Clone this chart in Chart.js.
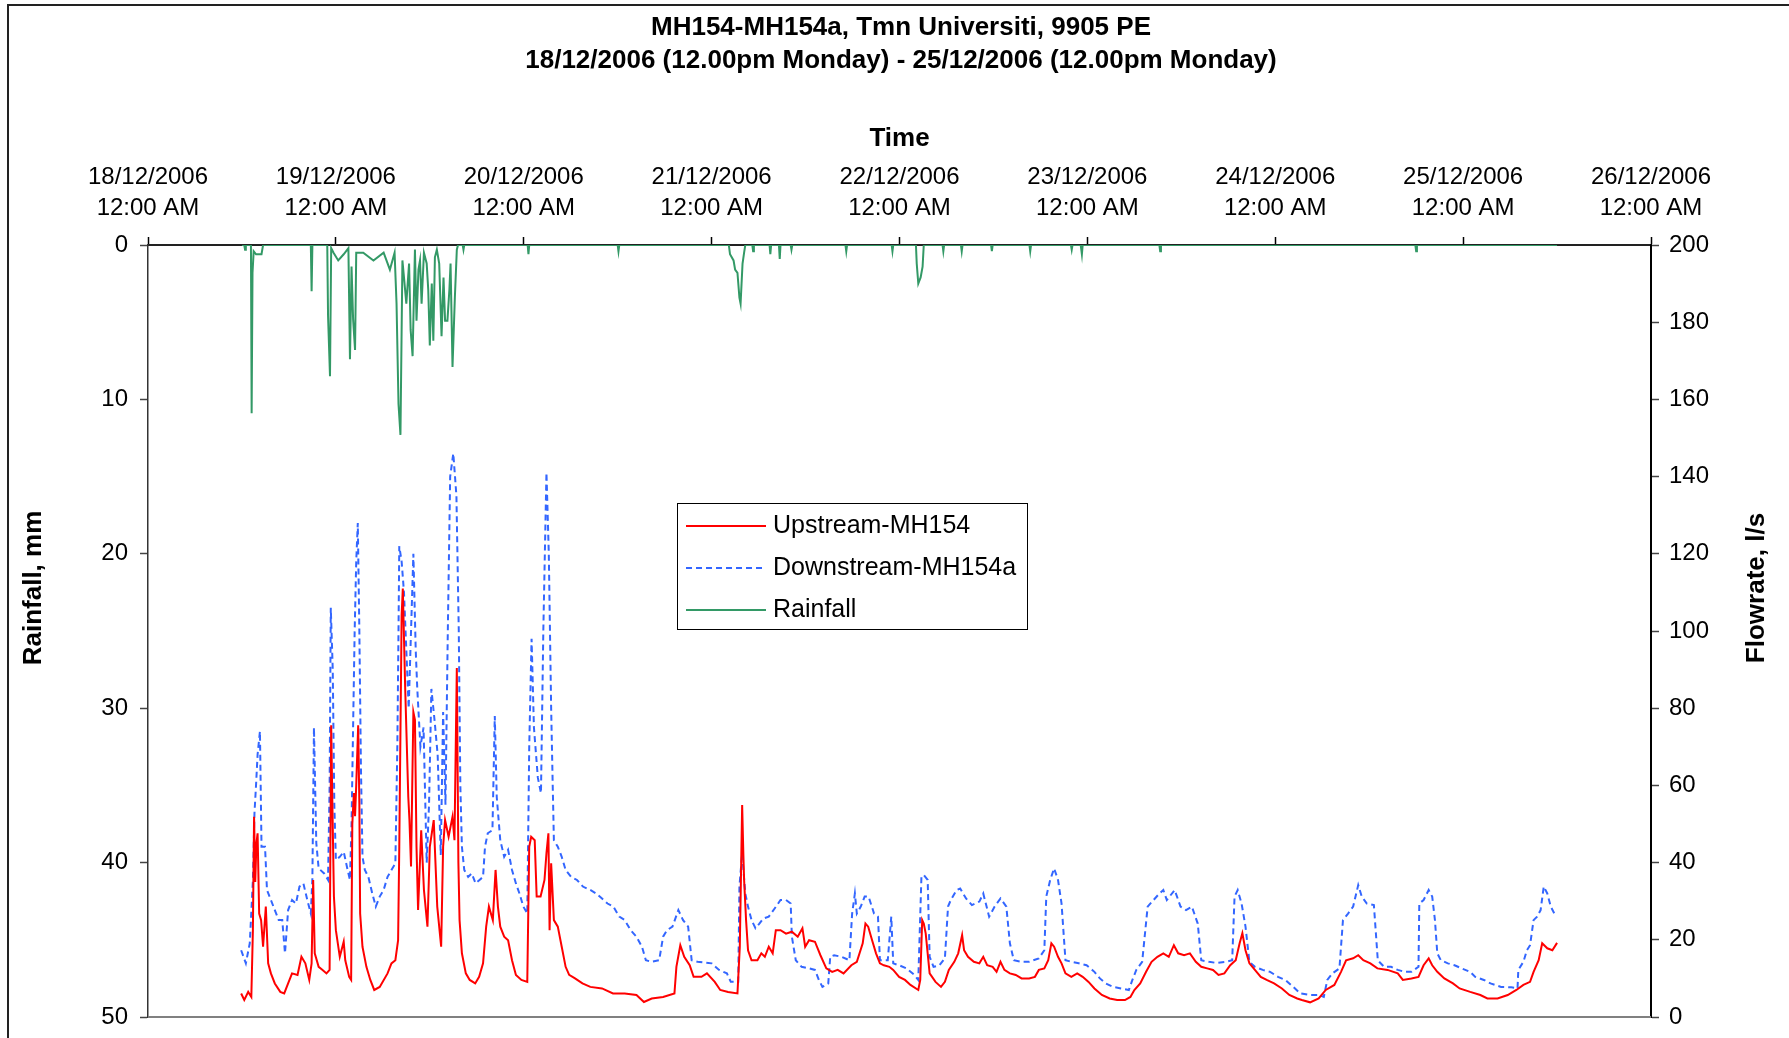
<!DOCTYPE html>
<html>
<head>
<meta charset="utf-8">
<script src="https://cdn.jsdelivr.net/npm/chart.js@4/dist/chart.umd.min.js"></script>
<style>
  html, body { margin: 0; padding: 0; background: #fff; overflow: hidden; }
  #wrap { width: 1789px; height: 1038px; overflow: hidden; }
  canvas { display: block; }
</style>
</head>
<body>
<div id="wrap"><canvas id="flowChart" width="1789" height="1038"></canvas></div>
<script>
// ---- data: [hours since 18/12/2006 00:00, value]
var titleLines = ['MH154-MH154a, Tmn Universiti, 9905 PE',
                  '18/12/2006 (12.00pm Monday) - 25/12/2006 (12.00pm Monday)'];
var xTickLabels = [['18/12/2006', '12:00 AM'], ['19/12/2006', '12:00 AM'], ['20/12/2006', '12:00 AM'],
                   ['21/12/2006', '12:00 AM'], ['22/12/2006', '12:00 AM'], ['23/12/2006', '12:00 AM'],
                   ['24/12/2006', '12:00 AM'], ['25/12/2006', '12:00 AM'], ['26/12/2006', '12:00 AM']];
var seriesNames = ['Upstream-MH154', 'Downstream-MH154a', 'Rainfall'];

// flowrate l/s
var upstream = [[11.9,6.1],[12.3,4.4],[12.8,6.5],[13.2,5.2],[13.4,22.5],[13.55,51.9],[13.7,35],[13.85,45],[14.0,47.6],[14.2,26.8],[14.45,25.1],[14.7,18.2],[15.05,28.6],[15.35,13.9],[15.7,11.3],[16.2,8.7],[16.9,6.5],[17.4,6.1],[17.9,8.7],[18.4,11.3],[19.1,10.9],[19.6,15.6],[20.1,13.9],[20.6,9.6],[20.9,13.9],[21.1,35.5],[21.3,16.5],[21.8,13.0],[22.3,12.2],[22.8,11.3],[23.2,12.2],[23.4,75.6],[23.55,55.4],[23.75,31.2],[24.0,22.5],[24.5,15.6],[25.0,19.5],[25.2,14.7],[25.7,10.4],[25.95,9.6],[26.1,50],[26.3,58],[26.45,52],[26.6,60],[26.85,75.6],[27.0,55],[27.1,26.8],[27.4,18.2],[27.9,13.0],[28.4,9.6],[28.9,7.0],[29.6,7.8],[30.6,11.3],[31.1,13.9],[31.6,14.7],[31.95,19.9],[32.1,44.1],[32.4,104],[32.55,111],[32.85,85.5],[33.25,57],[33.4,51],[33.6,39],[33.9,79],[34.1,77],[34.3,44.1],[34.5,27.7],[34.9,48.4],[35.25,32.9],[35.7,23.4],[36.0,44.1],[36.5,51.0],[36.95,28.6],[37.45,18.2],[37.7,44.1],[37.95,51.0],[38.4,46.7],[38.9,51.9],[39.15,45.8],[39.45,90.4],[39.65,40],[39.8,25.1],[40.1,16.5],[40.6,11.3],[41.1,9.6],[41.8,8.7],[42.3,10.4],[42.8,13.9],[43.2,23.4],[43.55,28.6],[44.05,25.1],[44.4,38.1],[44.7,28.6],[45.0,23.4],[45.5,20.8],[46.0,19.9],[46.5,14.7],[47.0,10.9],[47.7,9.6],[48.45,9.1],[48.7,44.1],[48.95,46.7],[49.4,45.8],[49.65,31.2],[50.15,31.2],[50.65,35.5],[50.9,42.4],[51.15,47.6],[51.3,22.5],[51.5,39.8],[51.85,25.1],[52.35,23.4],[52.85,18.2],[53.35,13.0],[53.8,10.9],[54.55,10.0],[55.5,8.7],[56.5,7.8],[58.0,7.4],[59.4,6.1],[60.9,6.1],[62.4,5.7],[63.35,3.9],[64.35,4.8],[65.8,5.2],[67.25,6.1],[67.5,13.0],[68.0,18.6],[68.5,15.6],[69.2,13.4],[69.7,10.4],[70.7,10.4],[71.4,11.3],[72.4,9.1],[73.1,7.0],[74.1,6.5],[75.3,6.1],[75.6,18.2],[75.9,54.9],[76.05,42.4],[76.15,35.5],[76.4,25.1],[76.65,17.3],[77.1,14.7],[77.85,14.7],[78.35,16.5],[78.8,15.6],[79.3,18.2],[79.8,16.5],[80.2,22.5],[80.8,22.5],[81.5,21.6],[82.25,22.1],[83.0,20.8],[83.6,23.0],[83.95,18.2],[84.45,19.9],[85.2,19.5],[85.9,16.0],[86.65,12.6],[87.4,11.7],[88.1,12.2],[88.85,11.3],[89.85,13.4],[90.55,14.3],[91.3,19.1],[91.65,24.2],[92.0,23.4],[92.5,19.9],[93.0,16.5],[93.5,13.9],[94.0,13.4],[94.7,13.0],[95.2,12.2],[95.95,10.4],[96.7,9.6],[97.4,8.3],[98.4,7.0],[98.65,9.6],[98.9,25.1],[99.1,24.2],[99.35,21.6],[99.85,11.3],[100.6,9.1],[101.3,7.8],[101.8,9.1],[102.3,12.2],[103.0,14.3],[103.5,16.5],[104.0,21.2],[104.25,17.3],[104.75,15.6],[105.5,14.3],[106.2,13.9],[106.7,15.6],[107.2,13.4],[107.9,13.0],[108.4,11.7],[108.9,14.3],[109.4,12.2],[110.1,11.3],[110.85,10.9],[111.6,10.0],[112.55,10.0],[113.3,10.4],[113.8,12.2],[114.5,12.6],[115.0,14.7],[115.4,19.1],[115.75,18.2],[116.25,15.6],[116.7,13.9],[117.2,11.3],[117.95,10.4],[118.7,11.3],[119.4,10.4],[120.15,9.1],[120.9,7.4],[121.85,5.7],[122.85,4.8],[123.8,4.4],[124.8,4.4],[125.5,5.2],[126.0,7.0],[126.75,8.7],[127.5,11.7],[128.2,14.3],[128.95,15.6],[129.7,16.5],[130.4,15.6],[131.05,18.6],[131.6,16.5],[132.35,16.0],[133.1,16.5],[133.85,14.3],[134.55,13.0],[135.3,12.6],[136.05,12.2],[136.75,10.9],[137.5,11.3],[138.25,13.4],[138.95,14.7],[139.45,19.1],[139.8,21.7],[140.2,17.3],[140.7,13.9],[141.4,12.2],[142.15,10.4],[142.9,9.6],[143.85,8.7],[144.85,7.4],[145.8,5.7],[146.8,4.8],[147.4,4.4],[148.45,3.8],[149.55,4.8],[150.45,7.0],[151.55,8.3],[152.4,11.7],[153.05,14.7],[153.95,15.2],[154.6,16.0],[155.25,14.7],[156.15,13.9],[157.05,12.6],[158.35,12.2],[159.65,11.3],[160.3,9.6],[161.4,10.0],[162.3,10.4],[162.95,13.4],[163.6,15.2],[164.05,13.4],[164.7,11.7],[165.6,10.0],[166.7,8.7],[167.55,7.4],[168.9,6.5],[170.2,5.7],[171.1,4.8],[172.4,4.8],[173.7,5.7],[174.8,7.0],[175.7,8.3],[176.55,9.1],[177.0,11.7],[177.65,14.7],[178.1,19.1],[178.75,17.8],[179.4,17.3],[180.0,19.2]];

var downstream = [[11.9,17.3],[12.5,13.9],[13.0,19.1],[13.4,35.5],[13.6,52.8],[13.8,60],[14.0,68],[14.3,74],[14.5,44.1],[14.95,44.1],[15.2,32.9],[15.7,30.3],[16.2,27.7],[16.7,25.1],[17.15,25.1],[17.5,16.5],[17.9,27.7],[18.4,30.3],[18.9,29.4],[19.35,33.8],[19.85,34.6],[20.35,30.3],[20.8,26.8],[21.0,36],[21.2,75],[21.5,45],[21.8,38.5],[22.5,37.2],[23.0,35.5],[23.2,60],[23.35,106],[23.6,90],[23.8,55],[24.0,40.7],[24.5,41.5],[25.0,42.8],[25.5,38.1],[25.8,35.5],[26.0,50],[26.2,75],[26.4,100],[26.6,118],[26.8,128],[27.0,100],[27.2,65],[27.4,41.5],[27.7,38.1],[28.15,36.3],[28.65,32.0],[29.1,28.6],[29.6,31.2],[30.1,32.9],[30.6,36.3],[31.1,38.1],[31.6,39.8],[31.85,70],[32.0,100],[32.1,122],[32.4,118],[32.7,110],[33.0,95],[33.3,80],[33.6,100],[33.9,120],[34.2,95],[34.4,85],[34.8,70],[35.2,75],[35.6,40],[35.9,55],[36.2,85],[36.6,77],[37.0,68],[37.4,42],[37.7,79],[38.0,55],[38.3,100],[38.6,140],[39.0,146],[39.4,135],[39.7,100],[39.9,60],[40.1,44.1],[40.4,38.1],[40.9,36.3],[41.35,37.2],[41.85,34.6],[42.35,35.5],[42.8,36.3],[43.05,44.1],[43.4,47.6],[44.0,48.4],[44.3,78],[44.55,57],[45.0,45.8],[45.5,41.5],[46.0,43.3],[46.5,38.1],[47.0,34.6],[47.45,32.0],[47.95,28.6],[48.45,26.8],[48.7,70],[49.0,98],[49.3,75],[49.8,62],[50.2,58],[50.5,100],[50.9,141],[51.2,120],[51.5,80],[51.7,60],[51.85,45.8],[52.35,44.1],[52.85,41.5],[53.35,38.1],[54.05,36.3],[54.8,35.5],[55.55,33.8],[56.5,32.9],[57.25,32.0],[58.0,30.7],[58.7,29.4],[59.45,28.6],[60.2,26.0],[60.9,25.1],[61.65,22.5],[62.4,20.8],[63.1,18.2],[63.6,14.7],[64.35,14.3],[65.3,14.7],[65.8,20.8],[66.3,22.5],[67.0,23.4],[67.75,27.7],[68.35,25.1],[69.0,23.4],[69.45,14.7],[70.2,14.3],[72.0,13.9],[72.95,12.2],[73.95,11.3],[74.45,9.1],[75.4,9.1],[75.55,33.8],[75.9,42.4],[76.3,32.0],[76.65,28.6],[77.1,25.1],[77.6,23.0],[78.1,24.2],[78.6,25.5],[79.3,26.0],[80.05,28.1],[80.8,30.3],[81.5,30.3],[82.1,29.4],[82.25,20.8],[82.75,14.7],[83.5,13.0],[84.45,12.6],[85.2,12.2],[85.7,9.6],[86.15,7.8],[86.9,8.7],[87.15,15.6],[87.65,16.0],[88.6,15.6],[89.6,14.7],[89.95,26.8],[90.3,32.0],[90.55,26.8],[91.05,28.6],[91.55,31.2],[92.05,31.2],[92.75,26.8],[93.25,26.0],[93.5,14.7],[94.5,14.7],[94.95,26.0],[95.2,13.9],[95.95,13.4],[96.9,12.6],[97.9,10.9],[98.4,9.6],[98.8,36.3],[99.1,36.8],[99.6,35.5],[99.85,15.6],[100.35,13.0],[101.1,13.4],[101.8,15.2],[102.2,28.6],[102.55,30.3],[103.3,32.9],[103.75,33.3],[104.5,30.7],[105.25,29.0],[106.2,29.9],[106.7,32.0],[107.45,26.0],[108.15,28.6],[108.9,30.7],[109.65,28.6],[110.1,19.1],[110.6,14.7],[111.6,14.3],[112.55,14.3],[113.8,15.2],[114.5,17.3],[114.75,31.2],[115.25,35.5],[115.75,38.5],[116.25,35.5],[116.7,29.4],[117.2,14.7],[117.95,14.3],[118.9,13.9],[119.9,13.4],[120.9,11.7],[121.6,10.0],[122.35,8.7],[123.3,7.8],[124.3,7.4],[125.3,7.0],[125.75,9.6],[126.25,12.2],[127.0,14.3],[127.7,28.6],[128.45,30.3],[129.2,32.0],[129.7,32.9],[130.15,30.3],[131.15,32.9],[131.9,28.6],[132.6,27.7],[133.35,28.6],[134.1,24.2],[134.55,14.7],[135.55,14.3],[136.5,14.0],[137.75,14.3],[138.5,14.7],[138.8,31.2],[139.2,32.9],[139.7,29.4],[140.2,23.4],[140.7,14.3],[141.4,13.0],[142.4,12.2],[143.35,11.7],[144.35,10.4],[145.3,9.6],[146.3,7.8],[147.2,6.1],[148.45,5.7],[149.55,5.7],[150.2,5.2],[150.65,9.6],[151.3,11.3],[152.2,12.6],[152.65,25.1],[153.3,26.8],[153.95,28.6],[154.6,34.2],[155.05,31.2],[155.7,29.4],[156.6,29.0],[157.1,14.7],[157.9,13.0],[158.8,13.0],[159.65,12.2],[160.55,11.7],[161.4,11.7],[162.3,13.0],[162.4,29.4],[162.95,30.3],[163.6,32.9],[164.05,31.2],[164.4,25.1],[164.7,16.5],[165.15,14.7],[166.05,13.9],[166.9,13.4],[167.8,12.6],[168.9,11.7],[169.55,10.4],[170.65,9.6],[171.5,8.7],[172.85,7.8],[174.15,7.7],[174.95,7.4],[175.05,12.2],[175.7,14.3],[176.15,17.3],[176.55,18.6],[177.0,25.1],[177.45,26.0],[177.9,27.7],[178.3,33.8],[178.75,32.0],[179.2,28.6],[179.65,26.8]];

// rainfall mm
var rainfall = [[12.0,0],[12.3,0],[12.4,0.3],[12.5,0],[13.15,0],[13.24,10.9],[13.35,1.8],[13.5,0.4],[13.8,0.6],[14.1,0.6],[14.5,0.6],[14.7,0],[20.8,0],[20.9,3.0],[21.0,0],[22.9,0],[23.0,4.6],[23.25,8.5],[23.4,0.2],[23.7,0.5],[24.3,1.0],[25.0,0.6],[25.6,0.2],[25.8,7.4],[26.0,1.4],[26.2,4.8],[26.45,6.8],[26.6,0.5],[27.5,0.5],[28.8,1.0],[30.1,0.5],[30.9,1.6],[31.5,0.5],[31.75,3.8],[32.0,10.3],[32.25,12.3],[32.5,1.0],[32.7,2.1],[33.0,3.8],[33.35,1.2],[33.55,5.5],[33.8,7.2],[34.1,0.3],[34.3,4.9],[34.55,1.6],[34.75,1.0],[34.95,3.8],[35.25,0.5],[35.6,1.2],[35.8,2.9],[36.0,6.5],[36.25,2.5],[36.45,6.2],[36.65,0.8],[36.9,0.3],[37.2,1.2],[37.5,5.9],[37.75,2.1],[37.95,4.9],[38.25,4.9],[38.5,2.9],[38.65,1.2],[38.9,7.9],[39.2,3.4],[39.45,0.3],[39.6,0],[40.2,0],[40.3,0.3],[40.4,0],[48.5,0],[48.6,0.6],[48.7,0],[60.0,0],[60.1,0.4],[60.2,0],[74.2,0],[74.35,0.6],[74.8,1.0],[75.0,1.6],[75.3,1.8],[75.55,3.4],[75.7,3.8],[75.95,1.2],[76.15,0.5],[76.3,0],[77.2,0],[77.3,0.4],[77.4,0],[79.4,0],[79.5,0.6],[79.6,0],[80.6,0],[80.7,0.9],[80.8,0],[82.1,0],[82.2,0.3],[82.3,0],[89.1,0],[89.2,0.4],[89.3,0],[95.0,0],[95.1,0.4],[95.2,0],[98.1,0],[98.2,1.2],[98.4,2.5],[98.7,2.1],[98.95,1.4],[99.1,0],[101.5,0],[101.6,0.4],[101.7,0],[103.85,0],[103.95,0.4],[104.05,0],[107.7,0],[107.8,0.4],[107.9,0],[112.6,0],[112.7,0.4],[112.8,0],[117.9,0],[118.0,0.3],[118.1,0],[119.15,0],[119.3,0.6],[119.4,0],[129.2,0],[129.3,0.4],[129.4,0],[161.9,0],[162.0,0.4],[162.1,0],[180.0,0]];

function toPoints(pairs){
    return pairs.map(function(p){ return {x: p[0], y: p[1]}; });
}

var FONT = '"Liberation Sans", Arial, sans-serif';
Chart.defaults.font.family = FONT;
Chart.defaults.color = '#000';

// fixed axis band sizes so the plot area sits where the original does
function fitBand(size){
    return function(s){
        if (s.isHorizontal()) { s.height = size; } else { s.width = size; }
        s.paddingTop = 0;
        s.paddingBottom = 0;
    };
}

// ---- extra drawing: frame, bottom rule, rotated axis titles, boxed legend
var decor = {
    id: 'decor',
    beforeDraw: function(chart){
        var ctx = chart.ctx;
        ctx.save();
        ctx.fillStyle = '#fff';
        ctx.fillRect(0, 0, chart.width, chart.height);
        ctx.strokeStyle = '#222';
        ctx.lineWidth = 2;
        ctx.strokeRect(8, 5, chart.width + 20, chart.height + 20);
        ctx.restore();
    },
    beforeDatasetsDraw: function(chart){
        var ctx = chart.ctx, a = chart.chartArea;
        ctx.save();
        ctx.strokeStyle = '#808080';
        ctx.lineWidth = 2;
        ctx.beginPath();
        ctx.moveTo(a.left, a.bottom);
        ctx.lineTo(a.right, a.bottom);
        ctx.stroke();
        ctx.restore();
    },
    afterDraw: function(chart){
        var ctx = chart.ctx;
        // axis titles, both read bottom-to-top
        ctx.save();
        ctx.font = 'bold 26px ' + FONT;
        ctx.fillStyle = '#000';
        ctx.textAlign = 'center';
        ctx.textBaseline = 'middle';
        [[34, 'Rainfall, mm'], [1757, 'Flowrate, l/s']].forEach(function(t){
            ctx.save();
            ctx.translate(t[0], 588);
            ctx.rotate(-Math.PI / 2);
            ctx.fillText(t[1], 0, 0);
            ctx.restore();
        });
        ctx.restore();
        // legend
        var bx = 677, by = 503, bw = 350, bh = 126;
        ctx.save();
        ctx.fillStyle = '#fff';
        ctx.fillRect(bx, by, bw, bh);
        ctx.strokeStyle = '#000';
        ctx.lineWidth = 1;
        ctx.strokeRect(bx + 0.5, by + 0.5, bw, bh);
        ctx.font = '25px ' + FONT;
        ctx.textBaseline = 'middle';
        chart.data.datasets.forEach(function(ds, i){
            var y = by + 23 + i * 42;
            ctx.strokeStyle = ds.borderColor;
            ctx.lineWidth = ds.borderWidth;
            ctx.setLineDash(ds.borderDash || []);
            ctx.beginPath();
            ctx.moveTo(bx + 9, y);
            ctx.lineTo(bx + 89, y);
            ctx.stroke();
            ctx.setLineDash([]);
            ctx.fillStyle = '#000';
            ctx.fillText(ds.label, bx + 96, y);
        });
        ctx.restore();
    }
};

var chart = new Chart(document.getElementById('flowChart'), {
    type: 'line',
    data: {
        datasets: [
            {label: seriesNames[0], data: toPoints(upstream), yAxisID: 'yFlow',
             borderColor: '#FF0000', borderWidth: 2, pointRadius: 0, tension: 0},
            {label: seriesNames[1], data: toPoints(downstream), yAxisID: 'yFlow',
             borderColor: '#3366FF', borderWidth: 2, borderDash: [6, 4], pointRadius: 0, tension: 0},
            {label: seriesNames[2], data: toPoints(rainfall), yAxisID: 'yRain',
             borderColor: '#339966', borderWidth: 2, pointRadius: 0, tension: 0}
        ]
    },
    options: {
        responsive: false,
        animation: false,
        devicePixelRatio: 1,
        layout: {padding: {left: 13, right: 0, top: 0, bottom: 21}},
        plugins: {
            legend: {display: false},
            tooltip: {enabled: false},
            title: {display: true, text: titleLines, color: '#000',
                    font: {size: 26, weight: 'bold', lineHeight: 1.3},
                    padding: {top: 10.5, bottom: 17.5}}
        },
        scales: {
            x: {
                type: 'linear', position: 'top', min: 0, max: 192,
                afterFit: fitBand(149.4),
                title: {display: true, text: 'Time', color: '#000',
                        font: {size: 26, weight: 'bold'}, padding: {top: 27.5, bottom: 0}},
                ticks: {stepSize: 24, autoSkip: false, maxRotation: 0, padding: 13,
                        font: {size: 24, lineHeight: 1.3}, color: '#000',
                        callback: function(v){ return xTickLabels[Math.round(v / 24)]; }},
                grid: {drawOnChartArea: false, drawTicks: true, tickLength: 8, tickColor: '#000', tickWidth: 1.5},
                border: {display: true, color: '#222', width: 2}
            },
            yRain: {
                position: 'left', reverse: true, min: 0, max: 50,
                afterFit: fitBand(135),
                ticks: {stepSize: 10, padding: 12, font: {size: 24}, color: '#000'},
                grid: {drawOnChartArea: false, tickLength: 8, tickColor: '#444', tickWidth: 1.5},
                border: {display: true, color: '#333', width: 1.5}
            },
            yFlow: {
                position: 'right', min: 0, max: 200,
                afterFit: fitBand(138),
                ticks: {stepSize: 20, padding: 10, font: {size: 24}, color: '#000'},
                grid: {drawOnChartArea: false, tickLength: 8, tickColor: '#444', tickWidth: 1.5},
                border: {display: true, color: '#000', width: 2}
            }
        }
    },
    plugins: [decor]
});
</script>
</body>
</html>
